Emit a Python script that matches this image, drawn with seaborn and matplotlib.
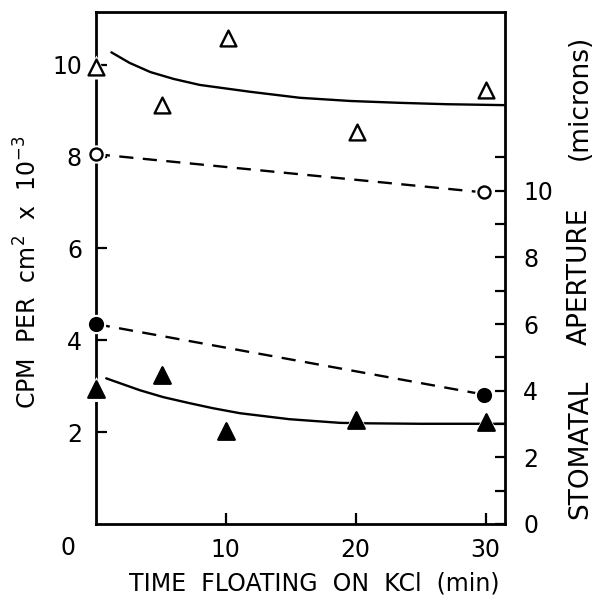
import matplotlib
matplotlib.use("Agg")
import matplotlib.pyplot as plt
import seaborn as sns

# dados lidos do grafico
# triangulos (eixo esquerdo, CPM por cm2 x 10^-3)
tempo_tri_aberto = [0, 5.1, 10.2, 20.1, 30.0]
tri_aberto = [9.95, 9.13, 10.58, 8.54, 9.45]
tempo_tri_cheio = [0, 5.1, 10.0, 20.0, 30.0]
tri_cheio = [2.93, 3.24, 2.02, 2.26, 2.22]

# curvas continuas (eixo esquerdo)
tempo_curva_sup = [1.2, 2.6, 4.2, 6.0, 8.0, 11.9, 15.7, 19.6, 23.4, 27.0, 31.4]
curva_sup = [10.27, 10.04, 9.84, 9.69, 9.56, 9.41, 9.28, 9.21, 9.17, 9.14, 9.12]
tempo_curva_inf = [0.8, 3.4, 5.2, 7.2, 9.0, 11.1, 14.9, 18.8, 21.0, 25.0, 31.4]
curva_inf = [3.17, 2.91, 2.76, 2.63, 2.52, 2.41, 2.28, 2.20, 2.19, 2.18, 2.18]

# circulos (eixo direito, abertura estomatica em microns)
tempo_circ = [0, 29.9]
circ_aberto = [11.1, 9.95]
circ_cheio = [6.0, 3.88]

esq_ticks = [2, 4, 6, 8, 10]
x_ticks = [10, 20, 30]
dir_ticks = [0, 2, 4, 6, 8, 10]
dir_minor = [1, 3, 5, 7, 9, 11]

sns.set_style("ticks")
plt.rcParams['font.family'] = ['DejaVu Sans']
plt.rcParams['text.color'] = 'black'

fig = plt.figure(figsize=(5.95, 5.96), dpi=100)
ax = fig.add_axes([0.161, 0.121, 0.688, 0.859])
ax2 = ax.twinx()


def marcadores(eixo, x, y, marker, cheio, tam):
    # halo branco por baixo (quebra a linha/spine em volta do marcador)
    sns.scatterplot(x=x, y=y, ax=eixo, marker=marker, s=tam * 2.3, color='white',
                    edgecolor='white', linewidth=0, zorder=5)
    eixo.collections[-1].set_clip_on(False)
    sns.scatterplot(x=x, y=y, ax=eixo, marker=marker, s=tam,
                    facecolor='black' if cheio else 'white', edgecolor='black',
                    linewidth=1.7, zorder=6)
    eixo.collections[-1].set_clip_on(False)


# curvas
sns.lineplot(x=tempo_curva_sup, y=curva_sup, ax=ax, color='black', lw=1.7, zorder=3)
sns.lineplot(x=tempo_curva_inf, y=curva_inf, ax=ax, color='black', lw=1.7, zorder=3)
marcadores(ax, tempo_tri_aberto, tri_aberto, '^', False, 130)
marcadores(ax, tempo_tri_cheio, tri_cheio, '^', True, 140)

# linhas tracejadas
sns.lineplot(x=tempo_circ, y=circ_aberto, ax=ax2, color='black', lw=1.7, zorder=3,
             dashes=False, linestyle=(0, (6, 4)))
sns.lineplot(x=tempo_circ, y=circ_cheio, ax=ax2, color='black', lw=1.7, zorder=3,
             dashes=False, linestyle=(0, (6, 4)))
marcadores(ax2, tempo_circ, circ_aberto, 'o', False, 75)
marcadores(ax2, tempo_circ, circ_cheio, 'o', True, 85)

ax.set_xlim(0, 31.5)
ax.set_ylim(0, 11.15)
ax2.set_ylim(0, 15.37)

ax.set_xticks(x_ticks)
ax.set_xticklabels([str(v) for v in x_ticks])
ax.set_yticks(esq_ticks)
ax.set_yticklabels([str(v) for v in esq_ticks])
ax2.set_yticks(dir_ticks)
ax2.set_yticklabels([str(v) for v in dir_ticks])
ax2.set_yticks(dir_minor, minor=True)

ax.tick_params(axis='both', direction='in', length=8, width=1.6, labelsize=17,
               colors='black')
ax.tick_params(axis='y', pad=10)
ax.tick_params(axis='x', pad=10)
ax2.tick_params(axis='y', which='both', direction='in', length=7, width=1.6,
                labelsize=17, pad=13, colors='black')

for lado in ['left', 'bottom', 'top']:
    ax.spines[lado].set_linewidth(2)
    ax.spines[lado].set_color('black')
ax.spines['right'].set_visible(False)
for lado in ['left', 'bottom', 'top']:
    ax2.spines[lado].set_visible(False)
ax2.spines['right'].set_linewidth(2)
ax2.spines['right'].set_color('black')
ax2.spines['right'].set_visible(True)

# "0" da origem, no canto
ax.annotate('0', xy=(0, 0), xycoords='axes fraction', xytext=(-28, -24),
            textcoords='offset pixels', ha='center', va='center', fontsize=17,
            color='black')

fig.text(314 / 595, 1 - 583 / 596, 'TIME  FLOATING  ON  KCl  (min)', ha='center',
         va='center', fontsize=17, color='black')
fig.text(28 / 595, 1 - 272 / 596, 'CPM  PER  cm$^{2}$  x  10$^{-3}$', rotation=90,
         ha='center', va='center', fontsize=17, color='black')

# rotulo direito: palavras bem espacadas como no original
for palavra, ycentro in [('STOMATAL', 449), ('APERTURE', 276), ('(microns)', 97)]:
    fig.text(580 / 595, 1 - ycentro / 596, palavra, rotation=90,
             ha='center', va='center', fontsize=19, color='black')

fig.savefig('out.png', dpi=100)
